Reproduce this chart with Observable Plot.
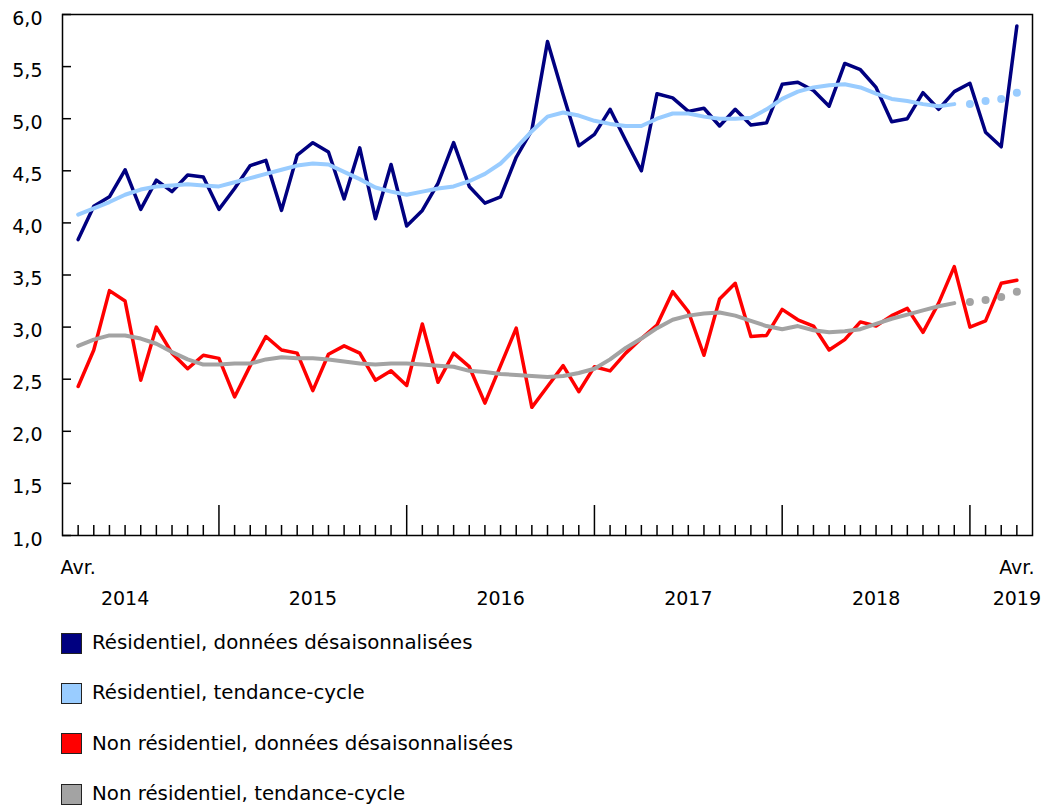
<!DOCTYPE html>
<html lang="fr">
<head>
<meta charset="utf-8">
<script src="https://cdn.jsdelivr.net/npm/d3@7"></script>
<script src="https://cdn.jsdelivr.net/npm/@observablehq/plot@0.6"></script>
<style>
  html, body { margin: 0; padding: 0; background: #fff; }
  body { font-family: "DejaVu Sans", Verdana, sans-serif; color: #000; width: 1043px; }
  #legend { margin-top: 3px; }
  .row { display: flex; align-items: center; height: 50.3px; padding-left: 61px; font-size: 19.8px; line-height: 20px; }
  .sw { width: 19px; height: 19px; border: 1px solid #222; margin-right: 10px; flex: none; }
</style>
</head>
<body>
<div id="chart"></div>
<div id="legend"></div>
<script>
// ---- Data, monthly April 2014 – April 2019 ----
const firstMonth = "2014-04-01";
const lastMonth = "2019-04-01";

const resSA = [3.84, 4.16, 4.25, 4.51, 4.13, 4.41, 4.30, 4.46, 4.44, 4.13,
               4.33, 4.55, 4.60, 4.12, 4.65, 4.77, 4.68, 4.23, 4.72, 4.04,
               4.56, 3.97, 4.12, 4.38, 4.77, 4.35, 4.19, 4.25, 4.63, 4.89,
               5.74, 5.23, 4.74, 4.85, 5.09, 4.79, 4.50, 5.24, 5.20, 5.07,
               5.10, 4.93, 5.09, 4.94, 4.96, 5.33, 5.35, 5.27, 5.12, 5.53,
               5.47, 5.30, 4.97, 5.00, 5.25, 5.09, 5.26, 5.34, 4.87, 4.73,
               5.89];
const resTrend = [4.08, 4.14, 4.20, 4.27, 4.32, 4.35, 4.36, 4.37, 4.36, 4.35,
                  4.39, 4.43, 4.47, 4.51, 4.55, 4.57, 4.56, 4.49, 4.42, 4.34,
                  4.30, 4.27, 4.30, 4.33, 4.35, 4.40, 4.47, 4.57, 4.72, 4.88,
                  5.02, 5.06, 5.03, 4.98, 4.95, 4.93, 4.93, 5.00, 5.05, 5.05,
                  5.02, 5.00, 5.00, 5.01, 5.09, 5.19, 5.26, 5.30, 5.32, 5.33,
                  5.30, 5.24, 5.19, 5.17, 5.14, 5.12, 5.14];
const resTrendProj = [5.14, 5.17, 5.19, 5.25];

const nonSA = [2.43, 2.78, 3.35, 3.25, 2.49, 3.00, 2.75, 2.60, 2.73, 2.70,
               2.33, 2.63, 2.91, 2.78, 2.75, 2.39, 2.74, 2.82, 2.75, 2.49,
               2.58, 2.44, 3.03, 2.47, 2.75, 2.62, 2.27, 2.63, 2.99, 2.23,
               2.43, 2.63, 2.38, 2.62, 2.58, 2.75, 2.89, 3.02, 3.34, 3.15,
               2.73, 3.27, 3.42, 2.91, 2.92, 3.17, 3.07, 3.01, 2.78, 2.88,
               3.05, 3.01, 3.11, 3.18, 2.95, 3.23, 3.58, 3.00, 3.06, 3.42,
               3.45];
const nonTrend = [2.82, 2.88, 2.92, 2.92, 2.89, 2.84, 2.76, 2.69, 2.64, 2.64,
                  2.65, 2.65, 2.69, 2.71, 2.70, 2.70, 2.69, 2.67, 2.65, 2.64,
                  2.65, 2.65, 2.64, 2.63, 2.62, 2.58, 2.57, 2.55, 2.54, 2.53,
                  2.52, 2.53, 2.56, 2.60, 2.69, 2.80, 2.89, 2.99, 3.07, 3.11,
                  3.13, 3.14, 3.11, 3.06, 3.01, 2.98, 3.01, 2.97, 2.95, 2.96,
                  2.98, 3.03, 3.08, 3.12, 3.16, 3.20, 3.23];
const nonTrendProj = [3.24, 3.26, 3.29, 3.34];

const yTicks = [1, 1.5, 2, 2.5, 3, 3.5, 4, 4.5, 5, 5.5, 6];
const endLabels = ["Avr.", "Avr."];
const endLabelMonths = ["2014-04-01", "2019-04-01"];
const yearLabels = ["2014", "2015", "2016", "2017", "2018", "2019"];
const yearLabelMonths = ["2014-07-01", "2015-07-01", "2016-07-01", "2017-07-01", "2018-07-01", "2019-04-01"];

const seriesNames = [
  "Résidentiel, données désaisonnalisées",
  "Résidentiel, tendance-cycle",
  "Non résidentiel, données désaisonnalisées",
  "Non résidentiel, tendance-cycle"
];
const seriesColors = ["#000080", "#99ccff", "#ff0000", "#a3a3a3"];

// ---- Build tables ----
const months = d3.utcMonth.range(new Date(firstMonth), d3.utcMonth.offset(new Date(lastMonth), 1));
const idxOf = (s) => d3.utcMonth.count(new Date(firstMonth), new Date(s));
const series = (vals, offset = 0) => vals.map((v, k) => ({i: k + offset, v}));
const monthIdx = months.map((m, k) => ({i: k, jan: m.getUTCMonth() === 0}));
const minorTicks = monthIdx.filter(d => !d.jan).map(d => d.i);
const majorTicks = monthIdx.filter(d => d.jan).map(d => d.i);
const nTrend = resTrend.length;

const endLab = endLabels.map((t, k) => ({i: idxOf(endLabelMonths[k]), t}));
const yearLab = yearLabels.map((t, k) => ({i: idxOf(yearLabelMonths[k]), t}));

const chart = Plot.plot({
  width: 1043,
  height: 615,
  marginLeft: 62,
  marginRight: 11,
  marginTop: 14,
  marginBottom: 80,
  style: {fontFamily: '"DejaVu Sans", Verdana, sans-serif', fontSize: "19px", color: "#000", background: "#fff", overflow: "visible"},
  x: {type: "linear", domain: [-1, months.length], axis: null},
  y: {domain: [1, 6], axis: null},
  marks: [
    // y axis labels
    Plot.axisY(yTicks, {tickSize: 0, tickPadding: 20, dy: 4, fontSize: 19, fill: "#000",
      tickFormat: d => d.toFixed(1).replace(".", ","), label: null}),
    // inward y ticks
    Plot.ruleY(yTicks, {x1: -1, x2: -1, insetRight: -9, stroke: "#000", strokeWidth: 1.5}),
    // x ticks
    Plot.ruleX(minorTicks, {y1: 1, y2: 1, insetBottom: 10, stroke: "#000", strokeWidth: 1.5}),
    Plot.ruleX(majorTicks, {y1: 1, y2: 1, insetBottom: 30, stroke: "#000", strokeWidth: 1.5}),
    // x labels
    Plot.text(endLab, {x: "i", frameAnchor: "bottom", text: "t", dy: 38, fontSize: 19, fill: "#000"}),
    Plot.text(yearLab, {x: "i", frameAnchor: "bottom", text: "t", dy: 69, fontSize: 19, fill: "#000"}),
    // series
    Plot.line(series(resSA), {x: "i", y: "v", stroke: seriesColors[0], strokeWidth: 3.5}),
    Plot.line(series(resTrend), {x: "i", y: "v", stroke: seriesColors[1], strokeWidth: 4}),
    Plot.dot(series(resTrendProj, nTrend), {x: "i", y: "v", r: 4, fill: seriesColors[1]}),
    Plot.line(series(nonSA), {x: "i", y: "v", stroke: seriesColors[2], strokeWidth: 3.5}),
    Plot.line(series(nonTrend), {x: "i", y: "v", stroke: seriesColors[3], strokeWidth: 4}),
    Plot.dot(series(nonTrendProj, nTrend), {x: "i", y: "v", r: 4, fill: seriesColors[3]}),
    Plot.frame({stroke: "#000", strokeWidth: 1.5})
  ]
});
document.getElementById("chart").appendChild(chart);

const legend = d3.select("#legend");
seriesNames.forEach((name, k) => {
  const row = legend.append("div").attr("class", "row");
  row.append("div").attr("class", "sw").style("background", seriesColors[k]);
  row.append("span").text(name);
});
</script>
</body>
</html>
